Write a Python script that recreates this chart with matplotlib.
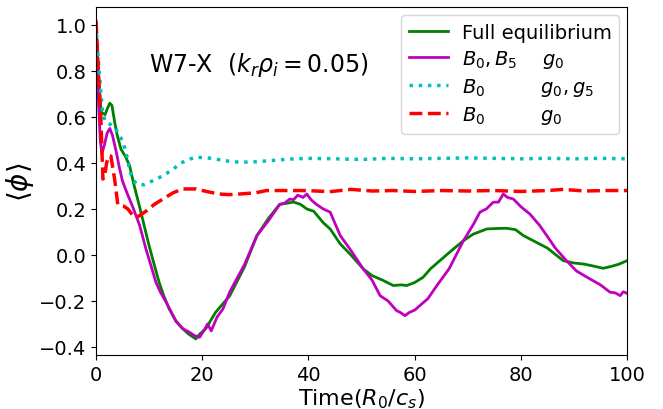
import numpy as np
import matplotlib
matplotlib.use('Agg')
import matplotlib.pyplot as plt

#%% Data
t_full = [0, 0.5, 1.0, 1.7, 2.2, 2.6, 3.0, 3.5, 4.0, 4.7, 5.5, 6.3, 7.2, 8.2, 9.1, 10, 11, 11.9, 12.8, 13.8,
          15, 16.3, 17.5, 18.8, 19.5, 20.7, 22.5, 25.2, 28, 30.3, 32.5, 34.6, 36, 37.2, 38.5, 39.7, 41, 42.8, 44.1, 46,
          48, 50.3, 52, 54, 56, 57.5, 58.5, 60, 61.6, 63, 65, 67, 69.2, 71, 73.6, 75.5, 77.3, 79, 80.5, 82.5,
          85, 88, 90, 92, 94, 95.5, 97, 98.5, 100]
y_full = [1.0, 0.75, 0.62, 0.61, 0.64, 0.66, 0.65, 0.58, 0.52, 0.46, 0.43, 0.39, 0.30, 0.21, 0.125, 0.04, -0.045, -0.12, -0.18, -0.235,
          -0.285, -0.32, -0.345, -0.365, -0.345, -0.32, -0.25, -0.177, -0.05, 0.084, 0.16, 0.22, 0.225, 0.23, 0.22, 0.2, 0.19, 0.14, 0.113, 0.048,
          0.0, -0.06, -0.09, -0.11, -0.133, -0.13, -0.133, -0.12, -0.097, -0.06, -0.02, 0.02, 0.062, 0.09, 0.113, 0.115, 0.116, 0.11, 0.084, 0.06,
          0.03, -0.025, -0.035, -0.04, -0.05, -0.058, -0.05, -0.04, -0.025]

t_b05 = [0, 0.4, 0.8, 1.1, 1.6, 2.1, 2.6, 3.1, 3.8, 4.4, 5.0, 6.0, 6.9, 8.2, 9.4, 10.4, 11.3, 12.2, 13.2, 14.2,
         15.1, 16.3, 17.6, 18.5, 19.5, 20.3, 21, 21.7, 22.8, 23.9, 25.2, 28, 30.3, 32.5, 34.6, 35.5, 36.5, 37.2, 38, 39,
         39.7, 40.5, 41.5, 42.8, 44.1, 46, 48, 50.3, 52, 53.5, 55, 56.6, 57.3, 58.2, 59, 60, 61, 62.5, 64.2, 66.5,
         69.2, 71, 72.3, 73.5, 74.8, 75.8, 76.7, 77.5, 78.6, 80, 81.7, 83.5, 84.9, 86.5, 88.6, 90.5, 93, 95, 96.8, 97.8,
         98.7, 99.3, 100]
y_b05 = [1.0, 0.7, 0.5, 0.44, 0.48, 0.53, 0.55, 0.52, 0.45, 0.38, 0.32, 0.26, 0.21, 0.13, 0.026, -0.05, -0.12, -0.165, -0.205, -0.25,
         -0.29, -0.32, -0.336, -0.35, -0.358, -0.33, -0.30, -0.33, -0.27, -0.235, -0.16, -0.04, 0.084, 0.15, 0.22, 0.225, 0.243, 0.24, 0.26, 0.25,
         0.265, 0.24, 0.22, 0.2, 0.186, 0.084, 0.02, -0.06, -0.11, -0.177, -0.20, -0.242, -0.25, -0.264, -0.25, -0.24, -0.22, -0.19, -0.133, -0.06,
         0.062, 0.13, 0.186, 0.2, 0.229, 0.23, 0.265, 0.25, 0.243, 0.21, 0.178, 0.13, 0.084, 0.03, -0.025, -0.07, -0.104, -0.13, -0.162, -0.165,
         -0.177, -0.16, -0.167]

t_g05 = [0, 0.3, 0.75, 1.2, 1.7, 2.5, 3.3, 4.2, 5.1, 5.8, 6.4, 7.5, 9, 11.4, 13, 14.6, 16, 17.7, 18.8, 22,
         24, 27.1, 30, 32.8, 36.5, 40, 45, 50, 55, 60, 65, 70, 75, 80, 85, 90, 95, 100]
y_g05 = [1.0, 0.9, 0.75, 0.63, 0.58, 0.57, 0.56, 0.53, 0.49, 0.43, 0.36, 0.31, 0.305, 0.33, 0.35, 0.374, 0.40, 0.417, 0.425, 0.42,
         0.41, 0.403, 0.405, 0.41, 0.417, 0.42, 0.418, 0.415, 0.42, 0.418, 0.42, 0.422, 0.42, 0.418, 0.42, 0.418, 0.42, 0.418]

t_g0 = [0, 0.4, 0.9, 1.3, 1.6, 2.0, 2.4, 2.8, 3.5, 4.1, 5.1, 6, 7.2, 8, 9.4, 11, 12.6, 14.5, 16.3, 18.8,
        21, 23.2, 25, 27.1, 30, 32.1, 36, 39.7, 44, 48, 52, 56, 60, 65, 70, 75, 80, 85, 88, 92,
        96, 100]
y_g0 = [1.02, 0.82, 0.6, 0.33, 0.34, 0.40, 0.43, 0.43, 0.33, 0.22, 0.214, 0.2, 0.164, 0.168, 0.19, 0.22, 0.243, 0.27, 0.287, 0.287,
        0.275, 0.265, 0.262, 0.265, 0.27, 0.28, 0.28, 0.28, 0.275, 0.285, 0.278, 0.28, 0.276, 0.28, 0.278, 0.28, 0.276, 0.28, 0.285, 0.278,
        0.28, 0.28]

labels = ['Full equilibrium',
          r'$B_0, B_5$    $g_0$',
          r'$B_0$         $g_0, g_5$',
          r'$B_0$         $g_0$']

assert len(t_full) == len(y_full) and len(t_b05) == len(y_b05)
assert len(t_g05) == len(y_g05) and len(t_g0) == len(y_g0)

#%% Plot
fig = plt.figure(figsize=(6.63, 4.10), dpi=100)
ax = fig.add_axes([0.1448, 0.1317, 0.8009, 0.8488])

ax.plot(t_full, y_full, color='g', lw=2, label=labels[0])
ax.plot(t_b05, y_b05, color='m', lw=2, label=labels[1])
ax.plot(t_g05, y_g05, color='c', lw=2.5, ls=':', label=labels[2])
ax.plot(t_g0, y_g0, color='r', lw=2.5, ls='--', label=labels[3])

ax.set_xlim(0, 100)
ax.set_ylim(-0.435, 1.078)
ax.set_xticks([0, 20, 40, 60, 80, 100])
ax.set_yticks([-0.4, -0.2, 0.0, 0.2, 0.4, 0.6, 0.8, 1.0])
ax.tick_params(labelsize=14)

ax.set_xlabel(r'Time$(R_0/c_s)$', fontsize=16, labelpad=2)
ax.set_ylabel(r'$\langle\phi\rangle$', fontsize=20, labelpad=2)
ax.text(0.10, 0.836, r'W7-X  $(k_r\rho_i=0.05)$', transform=ax.transAxes,
        fontsize=17, va='center', ha='left')
ax.legend(loc='upper right', fontsize=14, handlelength=2.0, handletextpad=0.7,
          labelspacing=0.32, borderaxespad=0.4)

fig.savefig('out.png', dpi=100)
